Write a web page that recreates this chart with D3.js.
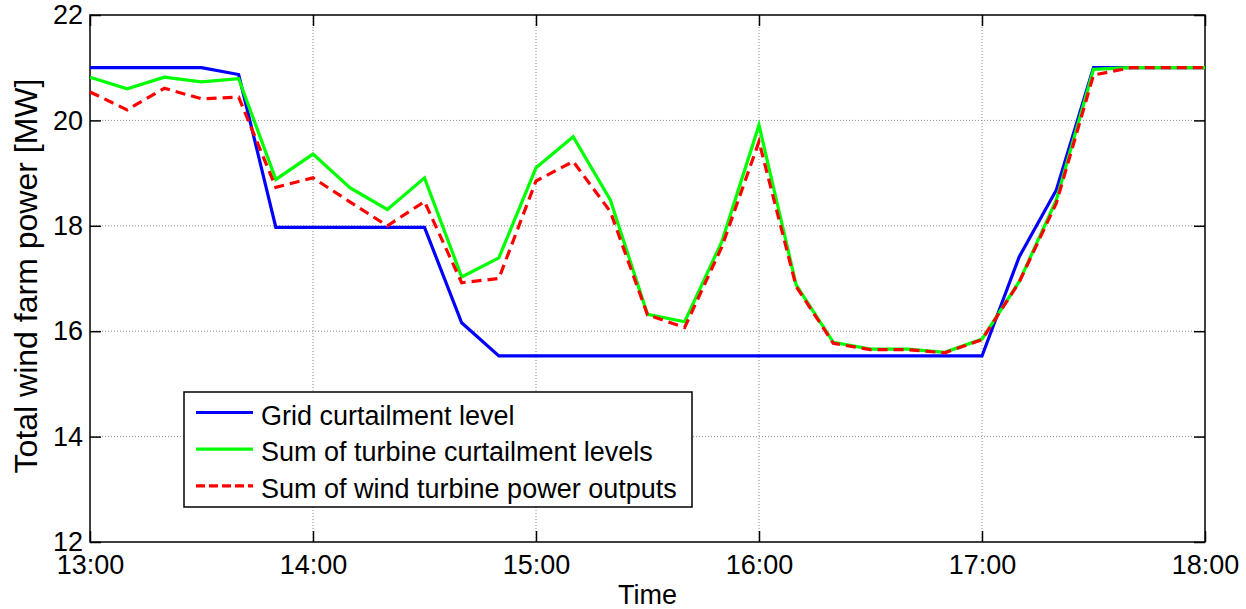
<!DOCTYPE html>
<html>
<head>
<meta charset="utf-8">
<script src="https://cdn.jsdelivr.net/npm/d3@7"></script>
<style>
  body { margin: 0; background: #fff; }
  text { font-family: "Liberation Sans", Arial, sans-serif; fill: #000; }
</style>
</head>
<body>
<div id="chart"></div>
<script>
var times = ["13:00","13:10","13:20","13:30","13:40","13:50","14:00","14:10","14:20","14:30","14:40","14:50",
  "15:00","15:10","15:20","15:30","15:40","15:50","16:00","16:10","16:20","16:30","16:40","16:50",
  "17:00","17:10","17:20","17:30","17:40","17:50","18:00"];
var gridLevel = [21.0,21.0,21.0,21.0,20.87,17.97,17.97,17.97,17.97,17.97,16.16,15.53,15.53,15.53,15.53,15.53,
  15.53,15.53,15.53,15.53,15.53,15.53,15.53,15.53,15.53,17.41,18.68,21.0,21.0,21.0,21.0];
var turbineLevels = [20.82,20.60,20.82,20.73,20.79,18.88,19.36,18.72,18.31,18.91,17.03,17.39,19.10,19.69,18.49,16.32,
  16.18,17.70,19.91,16.88,15.79,15.66,15.66,15.60,15.85,16.94,18.49,20.97,21.0,21.0,21.0];
var powerOutputs = [20.54,20.20,20.61,20.41,20.44,18.73,18.91,18.45,18.00,18.46,16.92,17.00,18.85,19.22,18.27,16.31,
  16.07,17.60,19.60,16.85,15.77,15.65,15.65,15.59,15.84,16.93,18.43,20.86,21.0,21.0,21.0];
var xTicks = ["13:00","14:00","15:00","16:00","17:00","18:00"];
var yTicks = [12,14,16,18,20,22];
var seriesNames = ["Grid curtailment level","Sum of turbine curtailment levels","Sum of wind turbine power outputs"];

var W = 1246, H = 609;
var plotLeft = 90, plotRight = 1205, plotTop = 15, plotBottom = 542;
var parseT = d3.timeParse("%H:%M");

var svg = d3.select("#chart").append("svg").attr("width", W).attr("height", H);

var x = d3.scaleTime().domain([parseT("13:00"), parseT("18:00")]).range([plotLeft, plotRight]);
var y = d3.scaleLinear().domain([12, 22]).range([plotBottom, plotTop]);

// grid
var grid = svg.append("g").attr("stroke", "#8c8c8c").attr("stroke-width", 1).attr("stroke-dasharray", "1,2");
xTicks.slice(1, -1).forEach(function(t) {
  grid.append("line").attr("x1", x(parseT(t))).attr("x2", x(parseT(t))).attr("y1", plotTop).attr("y2", plotBottom);
});
yTicks.slice(1, -1).forEach(function(v) {
  grid.append("line").attr("x1", plotLeft).attr("x2", plotRight).attr("y1", y(v)).attr("y2", y(v));
});

// axes (MATLAB style, ticks inside, box on)
var xVals = xTicks.map(parseT);
var fmt = d3.timeFormat("%H:%M");
var xAxis = d3.axisBottom(x).tickValues(xVals).tickFormat(fmt).tickSizeInner(-11).tickSizeOuter(0).tickPadding(13);
var xTop = d3.axisTop(x).tickValues(xVals).tickFormat("").tickSizeInner(-11).tickSizeOuter(0);
var yAxis = d3.axisLeft(y).tickValues(yTicks).tickSizeInner(-11).tickSizeOuter(0).tickPadding(7);
var yRight = d3.axisRight(y).tickValues(yTicks).tickFormat("").tickSizeInner(-11).tickSizeOuter(0);

function styleAxis(g) {
  g.select(".domain").remove();
  g.selectAll(".tick line").attr("stroke", "#000").attr("stroke-width", 1.5);
  g.selectAll("text").style("font-size", "27px").attr("fill", "#000");
}
svg.append("g").attr("transform", "translate(0," + plotBottom + ")").call(xAxis).call(styleAxis);
svg.append("g").attr("transform", "translate(0," + plotTop + ")").call(xTop).call(styleAxis);
svg.append("g").attr("transform", "translate(" + plotLeft + ",0)").call(yAxis).call(styleAxis);
svg.append("g").attr("transform", "translate(" + plotRight + ",0)").call(yRight).call(styleAxis);

svg.append("rect").attr("x", plotLeft).attr("y", plotTop).attr("width", plotRight - plotLeft).attr("height", plotBottom - plotTop)
  .attr("fill", "none").attr("stroke", "#000").attr("stroke-width", 1.5);

// lines
var series = [
  { name: seriesNames[0], values: gridLevel, color: "#0000ff", dash: null },
  { name: seriesNames[1], values: turbineLevels, color: "#00ff00", dash: null },
  { name: seriesNames[2], values: powerOutputs, color: "#ff0000", dash: "10,6" }
];
var line = d3.line()
  .x(function(d, i) { return x(parseT(times[i])); })
  .y(function(d) { return y(d); });

series.forEach(function(s) {
  svg.append("path").datum(s.values)
    .attr("fill", "none").attr("stroke", s.color).attr("stroke-width", 3.2)
    .attr("stroke-linejoin", "miter").attr("stroke-dasharray", s.dash)
    .attr("d", line);
});

// legend
var lg = svg.append("g").attr("transform", "translate(184,392)");
lg.append("rect").attr("width", 508).attr("height", 115).attr("fill", "#fff").attr("stroke", "#000").attr("stroke-width", 1.5);
series.forEach(function(s, i) {
  var ly = 20.5 + i * 36.7;
  lg.append("line").attr("x1", 12).attr("x2", 69).attr("y1", ly).attr("y2", ly)
    .attr("stroke", s.color).attr("stroke-width", 3.2).attr("stroke-dasharray", s.dash ? "9,4" : null);
  lg.append("text").attr("x", 77).attr("y", ly + 12).style("font-size", "27px").text(s.name);
});

// axis labels
svg.append("text").attr("x", (plotLeft + plotRight) / 2).attr("y", 604).attr("text-anchor", "middle")
  .style("font-size", "27px").text("Time");
svg.append("text").attr("transform", "translate(37,276) rotate(-90)")
  .attr("text-anchor", "middle").style("font-size", "32px").text("Total wind farm power [MW]");
</script>
</body>
</html>
